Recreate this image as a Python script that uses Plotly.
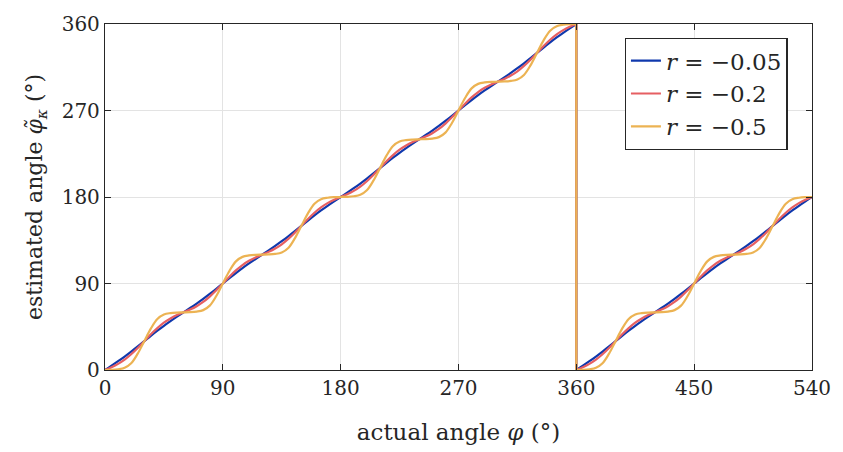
import plotly.graph_objects as go

# actual angle grid (deg): first turn 0..360, second turn 360..540
phi_a = list(range(0, 365, 5))
phi_b = list(range(360, 545, 5))

# estimated angle (deg)
est_r005_a = [0, 4.5, 9.15, 14, 19.15, 24.5, 30, 35.5, 40.85, 46, 50.85, 55.5,
              60, 64.5, 69.15, 74, 79.15, 84.5, 90, 95.5, 100.85, 106, 110.85, 115.5,
              120, 124.5, 129.15, 134, 139.15, 144.5, 150, 155.5, 160.85, 166, 170.85, 175.5,
              180, 184.5, 189.15, 194, 199.15, 204.5, 210, 215.5, 220.85, 226, 230.85, 235.5,
              240, 244.5, 249.15, 254, 259.15, 264.5, 270, 275.5, 280.85, 286, 290.85, 295.5,
              300, 304.5, 309.15, 314, 319.15, 324.5, 330, 335.5, 340.85, 346, 350.85, 355.5,
              360]
est_r005_b = [0, 4.5, 9.15, 14, 19.15, 24.5, 30, 35.5, 40.85, 46, 50.85, 55.5,
              60, 64.5, 69.15, 74, 79.15, 84.5, 90, 95.5, 100.85, 106, 110.85, 115.5,
              120, 124.5, 129.15, 134, 139.15, 144.5, 150, 155.5, 160.85, 166, 170.85, 175.5,
              180]

est_r02_a = [0, 2.9, 6.4, 10.8, 16.4, 22.9, 30, 37.1, 43.6, 49.2, 53.6, 57.1,
             60, 62.9, 66.4, 70.8, 76.4, 82.9, 90, 97.1, 103.6, 109.2, 113.6, 117.1,
             120, 122.9, 126.4, 130.8, 136.4, 142.9, 150, 157.1, 163.6, 169.2, 173.6, 177.1,
             180, 182.9, 186.4, 190.8, 196.4, 202.9, 210, 217.1, 223.6, 229.2, 233.6, 237.1,
             240, 242.9, 246.4, 250.8, 256.4, 262.9, 270, 277.1, 283.6, 289.2, 293.6, 297.1,
             300, 302.9, 306.4, 310.8, 316.4, 322.9, 330, 337.1, 343.6, 349.2, 353.6, 357.1,
             360]
est_r02_b = [0, 2.9, 6.4, 10.8, 16.4, 22.9, 30, 37.1, 43.6, 49.2, 53.6, 57.1,
             60, 62.9, 66.4, 70.8, 76.4, 82.9, 90, 97.1, 103.6, 109.2, 113.6, 117.1,
             120, 122.9, 126.4, 130.8, 136.4, 142.9, 150, 157.1, 163.6, 169.2, 173.6, 177.1,
             180]

est_r05_a = [0, 0.2, 0.8, 2.3, 7, 17, 30, 43, 53, 57.7, 59.2, 59.8,
             60, 60.2, 60.8, 62.3, 67, 77, 90, 103, 113, 117.7, 119.2, 119.8,
             120, 120.2, 120.8, 122.3, 127, 137, 150, 163, 173, 177.7, 179.2, 179.8,
             180, 180.2, 180.8, 182.3, 187, 197, 210, 223, 233, 237.7, 239.2, 239.8,
             240, 240.2, 240.8, 242.3, 247, 257, 270, 283, 293, 297.7, 299.2, 299.8,
             300, 300.2, 300.8, 302.3, 307, 317, 330, 343, 353, 357.7, 359.2, 359.8,
             360]
est_r05_b = [0, 0.2, 0.8, 2.3, 7, 17, 30, 43, 53, 57.7, 59.2, 59.8,
             60, 60.2, 60.8, 62.3, 67, 77, 90, 103, 113, 117.7, 119.2, 119.8,
             120, 120.2, 120.8, 122.3, 127, 137, 150, 163, 173, 177.7, 179.2, 179.8,
             180]

series = [
    ("<i>r</i> = −0.05", est_r005_a, est_r005_b, "#0f38ad"),
    ("<i>r</i> = −0.2", est_r02_a, est_r02_b, "#e65f62"),
    ("<i>r</i> = −0.5", est_r05_a, est_r05_b, "#ecb353"),
]

tick_vals_x = [0, 90, 180, 270, 360, 450, 540]
tick_vals_y = [0, 90, 180, 270, 360]

FONT = "DejaVu Serif"
TXT = "#262626"

fig = go.Figure()
for name, ya, yb, col in series:
    lw = 2.2
    fig.add_trace(go.Scatter(x=phi_a, y=ya, mode="lines", name=name,
                             line=dict(color=col, width=lw, shape="spline", smoothing=1.0),
                             legendgroup=name, showlegend=True))
    fig.add_trace(go.Scatter(x=[phi_a[-1], phi_b[0]], y=[ya[-1], yb[0]], mode="lines",
                             line=dict(color=col, width=lw),
                             legendgroup=name, showlegend=False))
    fig.add_trace(go.Scatter(x=phi_b, y=yb, mode="lines",
                             line=dict(color=col, width=lw, shape="spline", smoothing=1.0),
                             legendgroup=name, showlegend=False))

axis_common = dict(
    showline=True, linecolor=TXT, linewidth=1.3, mirror="allticks",
    ticks="inside", ticklen=6, tickcolor=TXT, tickwidth=1.3,
    showgrid=True, gridcolor="#e3e3e3", gridwidth=1,
    zeroline=False,
    tickfont=dict(family=FONT, size=20, color=TXT),
)

fig.update_xaxes(range=[0, 540], tickvals=tick_vals_x,
                 title=dict(text="actual angle <i>φ</i> (°)", font=dict(family=FONT, size=23, color=TXT),
                            standoff=24),
                 **axis_common)
fig.update_yaxes(range=[0, 360], tickvals=tick_vals_y,
                 title=dict(text="estimated angle <i>φ̃</i><sub><i>κ</i></sub> (°)",
                            font=dict(family=FONT, size=22, color=TXT), standoff=12),
                 **axis_common)

fig.update_layout(
    width=843, height=452,
    margin=dict(l=105, r=21, t=20, b=79),
    paper_bgcolor="white", plot_bgcolor="white",
    legend=dict(x=0.735, y=0.96, xanchor="left", yanchor="top",
                bgcolor="white", bordercolor=TXT, borderwidth=1.3,
                font=dict(family=FONT, size=23, color=TXT),
                itemwidth=30, tracegroupgap=0),
    showlegend=True,
)

fig.write_html("out.html")
